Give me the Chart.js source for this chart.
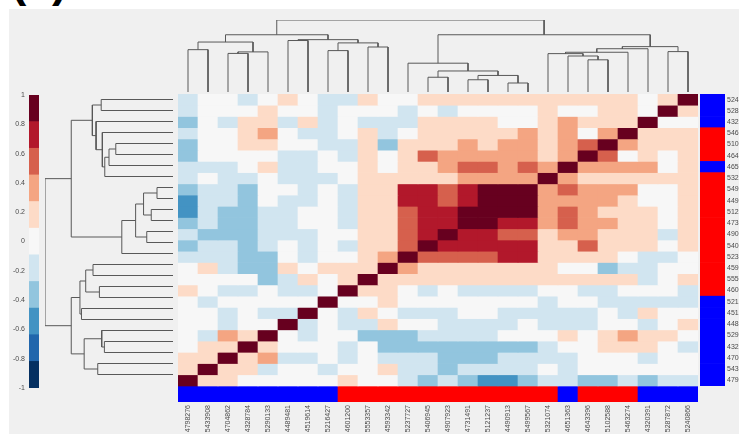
<!DOCTYPE html>
<html>
<head>
<meta charset="utf-8">
<script src="https://cdn.jsdelivr.net/npm/chart.js@4.4.1/dist/chart.umd.min.js"></script>
<style>
  html, body { margin: 0; padding: 0; background: #ffffff; width: 739px; height: 434px; overflow: hidden; position: relative; font-family: "Liberation Sans", Arial, sans-serif; }
  #panel { position: absolute; left: 9px; top: 9px; right: 0; bottom: 0; background: #f0f0f0; }
  #tag { position: absolute; left: 11px; top: -43px; font: bold 46px "Liberation Sans", Arial, sans-serif; color: #000; line-height: 46px; white-space: nowrap; }
  .box { position: absolute; }
  .box canvas { display: block; }
</style>
</head>
<body>
<div id="panel"></div>
<div id="tag">(a)</div>
<div class="box" style="left:0px;top:90px;width:39px;height:302px"><canvas id="cbar"></canvas></div>
<div class="box" style="left:40px;top:90px;width:138px;height:306px"><canvas id="dendroLeft"></canvas></div>
<div class="box" style="left:178px;top:15px;width:520px;height:80px"><canvas id="dendroTop"></canvas></div>
<div class="box" style="left:178px;top:94px;width:520px;height:340px"><canvas id="heat"></canvas></div>
<div class="box" style="left:700px;top:94px;width:39px;height:292px"><canvas id="sideBar"></canvas></div>

<script>
// Gene identifiers in clustered order (left to right along the columns).
const geneIds = ['4798276','5433908','4704862','4328784','5290133','4489481','4519614','5216427',
  '4601200','5553357','4593342','5237727','5406945','4907923','4731491','5121237','4490913',
  '5499567','5321074','4651363','4643396','5102588','5463274','4320391','5287872','5240866'];

// Group membership of each gene (0 = blue group, 1 = red group).
const geneGroup = [0,0,0,0,0,0,0,0, 1,1,1,1,1,1,1,1,1,1,1, 0, 1,1,1, 0,0,0];

// Pairwise correlations, one row per gene, columns in geneIds order.
const corr = [
  [1,.18,.18,0,0,0,0,0,.18,0,0,-.18,-.36,-.18,-.36,-.55,-.55,-.36,-.18,-.18,-.36,-.36,-.18,-.36,-.18,-.18],
  [.18,1,.18,.18,-.18,0,0,-.18,0,0,.18,-.18,-.18,-.36,-.18,-.18,-.18,-.18,0,-.18,0,0,0,0,0,0],
  [.18,.18,1,.18,.36,-.18,-.18,0,-.18,0,-.18,-.18,-.18,-.36,-.36,-.36,-.18,-.18,-.18,-.18,0,0,0,-.18,0,0],
  [0,.18,.18,1,.18,0,0,0,-.18,0,-.36,-.36,-.36,-.36,-.36,-.36,-.36,-.36,-.18,0,0,.18,.18,.18,0,-.18],
  [0,-.18,.36,.18,1,0,-.18,0,0,-.36,-.36,-.36,-.18,-.18,-.18,-.18,0,0,0,.18,0,.18,.36,.18,.18,0],
  [0,0,-.18,0,0,1,-.18,0,-.18,-.18,.18,0,0,-.18,-.18,-.18,-.18,0,-.18,-.18,-.18,0,0,-.18,0,.18],
  [0,0,-.18,0,-.18,-.18,1,0,-.18,.18,0,-.18,-.18,-.18,0,0,-.18,-.18,-.18,-.18,-.18,0,-.18,.18,0,0],
  [0,-.18,0,0,0,0,0,1,0,0,.18,0,0,0,0,0,0,0,-.18,0,0,-.18,-.18,-.18,-.18,-.18],
  [.18,0,-.18,-.18,0,-.18,-.18,0,1,.18,.18,0,-.18,0,-.18,-.18,-.18,-.18,0,0,-.18,-.18,0,0,0,-.18],
  [0,0,0,0,-.36,-.18,.18,0,.18,1,.18,.18,.18,.18,.18,.18,.18,.18,.18,.18,.18,.18,.18,-.18,0,.18],
  [0,.18,-.18,-.36,-.36,.18,0,.18,.18,.18,1,.36,.18,.18,.18,.18,.18,.18,.18,0,0,-.36,-.18,-.18,0,0],
  [-.18,-.18,-.18,-.36,-.36,0,-.18,0,0,.18,.36,1,.55,.55,.55,.55,.72,.72,.18,.18,.18,.18,0,-.18,-.18,0],
  [-.36,-.18,-.18,-.36,-.18,0,-.18,0,-.18,.18,.18,.55,1,.72,.72,.72,.72,.72,.18,.18,.55,.18,.18,.18,0,.18],
  [-.18,-.36,-.36,-.36,-.18,-.18,-.18,0,0,.18,.18,.55,.72,1,.72,.72,.55,.55,.18,.36,.36,.18,.18,.18,-.18,.18],
  [-.36,-.18,-.36,-.36,-.18,-.18,0,0,-.18,.18,.18,.55,.72,.72,1,.9,.72,.72,.36,.55,.36,.36,.18,.18,0,.18],
  [-.55,-.18,-.36,-.36,-.18,-.18,0,0,-.18,.18,.18,.55,.72,.72,.9,1,.9,.9,.36,.55,.36,.18,.18,.18,0,.18],
  [-.55,-.18,-.18,-.36,0,-.18,-.18,0,-.18,.18,.18,.72,.72,.55,.72,.9,1,.9,.36,.36,.36,.36,.18,0,0,.18],
  [-.36,-.18,-.18,-.36,0,0,-.18,0,-.18,.18,.18,.72,.72,.55,.72,.9,.9,1,.36,.55,.36,.36,.36,0,0,.18],
  [-.18,0,-.18,-.18,0,-.18,-.18,-.18,0,.18,.18,.18,.18,.18,.36,.36,.36,.36,1,.36,.18,.18,.18,.18,.18,.18],
  [-.18,-.18,-.18,0,.18,-.18,-.18,0,0,.18,0,.18,.18,.36,.55,.55,.36,.55,.36,1,.36,.36,.36,.36,0,.18],
  [-.36,0,0,0,0,-.18,-.18,0,-.18,.18,0,.18,.55,.36,.36,.36,.36,.36,.18,.36,1,.55,0,.18,0,.18],
  [-.36,0,0,.18,.18,0,0,-.18,-.18,.18,-.36,.18,.18,.18,.36,.18,.36,.36,.18,.36,.55,1,.36,.18,.18,.18],
  [-.18,0,0,.18,.36,0,-.18,-.18,0,.18,-.18,0,.18,.18,.18,.18,.18,.36,.18,.36,0,.36,1,.18,.18,.18],
  [-.36,0,-.18,.18,.18,-.18,.18,-.18,0,-.18,-.18,-.18,.18,.18,.18,.18,0,0,.18,.36,.18,.18,.18,1,0,0],
  [-.18,0,0,0,.18,0,0,-.18,0,0,0,-.18,0,-.18,0,0,0,0,.18,0,0,.18,.18,0,1,.18],
  [-.18,0,0,-.18,0,.18,0,-.18,-.18,.18,0,0,.18,.18,.18,.18,.18,.18,.18,.18,.18,.18,.18,0,.18,1]
];

// Hierarchical clustering merges: [child A, child B, merge height].
// Leaves are 0..25; merge k creates node 26 + k.
const linkage = [
  [16, 17, 0.125], [14, 15, 0.17], [12, 13, 0.205], [27, 26, 0.23], [28, 29, 0.292],
  [11, 30, 0.40], [20, 21, 0.447], [19, 32, 0.50], [18, 33, 0.533], [22, 34, 0.552],
  [24, 25, 0.561], [23, 35, 0.601], [36, 37, 0.63], [31, 38, 0.795],
  [2, 3, 0.536], [4, 40, 0.557], [0, 1, 0.588], [42, 41, 0.694],
  [7, 8, 0.575], [9, 10, 0.625], [44, 45, 0.682], [5, 6, 0.715], [47, 46, 0.727],
  [43, 48, 0.795], [49, 39, 1.0]
];

// Colour scale (11 classes from -1 to 1) and group colours.
const palette = ['#053061','#2166ac','#4393c3','#92c5de','#d1e5f0','#f7f7f7',
                 '#fddbc7','#f4a582','#d6604d','#b2182b','#67001f'];
const groupColors = ['#0000ff', '#ff0000'];
const colorTicks = [-1, -0.8, -0.6, -0.4, -0.2, 0, 0.2, 0.4, 0.6, 0.8, 1];

const N = geneIds.length;
const rowGenes = geneIds.map((_, r) => N - 1 - r);      // gene index shown on each row, top to bottom
const rowLabels = rowGenes.map(g => geneIds[g]);
const STRIP = 16 / (292 / N);                             // group strip height in row units

function colorFor(v) {
  let k = Math.floor((v + 1) / 2 * palette.length);
  return palette[Math.max(0, Math.min(palette.length - 1, k))];
}

// keep an axis from reserving extra room for its end labels
function noEndPadding(s) { s.paddingTop = 0; s.paddingBottom = 0; s.paddingLeft = 0; s.paddingRight = 0; }

Chart.defaults.font.family = '"Liberation Sans", Arial, sans-serif';
Chart.defaults.animation = false;
Chart.defaults.events = [];
Chart.defaults.plugins.legend.display = false;
Chart.defaults.plugins.tooltip.enabled = false;

const tickColor = '#4a4a4a';

// ---- heatmap with the column group strip underneath ----
const heatSets = rowGenes.map((g, r) => ({
  data: geneIds.map(() => [N - 1 - r, N - r]),
  backgroundColor: geneIds.map((_, c) => colorFor(corr[g][c]))
}));
heatSets.push({
  data: geneIds.map(() => [-STRIP, 0]),
  backgroundColor: geneIds.map((_, c) => groupColors[geneGroup[c]])
});

new Chart(document.getElementById('heat'), {
  type: 'bar',
  data: { labels: geneIds, datasets: heatSets },
  options: {
    responsive: true, maintainAspectRatio: false,
    layout: { padding: 0 },
    datasets: { bar: { grouped: false, barPercentage: 1, categoryPercentage: 1, borderWidth: 0 } },
    scales: {
      x: {
        type: 'category', offset: true,
        grid: { display: false, drawTicks: false }, border: { display: false },
        ticks: { autoSkip: false, minRotation: 90, maxRotation: 90, padding: 3,
                 color: tickColor, font: { size: 7 } },
        afterFit: s => { s.height = 32; noEndPadding(s); }
      },
      y: { type: 'linear', display: false, min: -STRIP, max: N }
    }
  }
});

// ---- row group strip with row labels ----
new Chart(document.getElementById('sideBar'), {
  type: 'bar',
  data: {
    labels: rowLabels,
    datasets: [{
      data: rowLabels.map(() => [0, 1]),
      backgroundColor: rowGenes.map(g => groupColors[geneGroup[g]])
    }]
  },
  options: {
    indexAxis: 'y',
    responsive: true, maintainAspectRatio: false,
    layout: { padding: 0 },
    datasets: { bar: { barPercentage: 1, categoryPercentage: 1, borderWidth: 0 } },
    scales: {
      x: { type: 'linear', display: false, min: 0, max: 1 },
      y: {
        type: 'category', position: 'right', offset: true,
        grid: { display: false, drawTicks: false }, border: { display: false },
        ticks: { autoSkip: false, padding: 2, color: tickColor, font: { size: 7 } },
        afterFit: s => { s.width = 14; noEndPadding(s); }
      }
    }
  }
});

// ---- colour bar ----
const bandEdges = palette.map((_, k) => -1 + 2 * k / palette.length).concat([1]);
new Chart(document.getElementById('cbar'), {
  type: 'bar',
  data: {
    labels: [''],
    datasets: palette.map((col, k) => ({
      data: [[bandEdges[k], bandEdges[k + 1]]],
      backgroundColor: col
    }))
  },
  options: {
    responsive: true, maintainAspectRatio: false,
    layout: { padding: { top: 5, bottom: 4, left: 0, right: 0 } },
    datasets: { bar: { grouped: false, barPercentage: 1, categoryPercentage: 1, borderWidth: 0 } },
    scales: {
      x: { type: 'category', display: false },
      y: {
        type: 'linear', min: -1, max: 1,
        grid: { display: false, drawTicks: false }, border: { display: false },
        afterBuildTicks: s => { s.ticks = colorTicks.map(v => ({ value: v })); },
        ticks: { padding: 4, color: tickColor, font: { size: 7 },
                 callback: v => String(Number(v.toFixed(1))) },
        afterFit: s => { s.width = 29; noEndPadding(s); }
      }
    }
  }
});

// ---- dendrograms from the linkage ----
function dendroSegments(leafPos, toPoint) {
  const nodes = [];
  const pos = id => id < N ? leafPos(id) : nodes[id - N].p;
  const hgt = id => id < N ? 0 : nodes[id - N].h;
  return linkage.map(([a, b, h]) => {
    const pa = pos(a), pb = pos(b);
    nodes.push({ p: (pa + pb) / 2, h });
    return {
      data: [toPoint(pa, hgt(a)), toPoint(pa, h), toPoint(pb, h), toPoint(pb, hgt(b))],
      showLine: true, borderColor: '#585858', borderWidth: 1, pointRadius: 0, tension: 0, fill: false
    };
  });
}

new Chart(document.getElementById('dendroTop'), {
  type: 'scatter',
  data: { datasets: dendroSegments(g => g, (p, h) => ({ x: p, y: h })) },
  options: {
    responsive: true, maintainAspectRatio: false,
    layout: { padding: { top: 5, bottom: 3, left: 0, right: 0 } },
    scales: {
      x: { type: 'linear', display: false, min: -0.5, max: N - 0.5 },
      y: { type: 'linear', display: false, min: 0, max: 1 }
    }
  }
});

new Chart(document.getElementById('dendroLeft'), {
  type: 'scatter',
  data: { datasets: dendroSegments(g => N - 1 - g, (p, h) => ({ x: h, y: p })) },
  options: {
    responsive: true, maintainAspectRatio: false,
    layout: { padding: { top: 4, bottom: 16, left: 5, right: 5 } },
    scales: {
      x: { type: 'linear', display: false, min: 0, max: 1, reverse: true },
      y: { type: 'linear', display: false, min: -0.5, max: N - 0.5, reverse: true }
    }
  }
});
</script>
</body>
</html>
